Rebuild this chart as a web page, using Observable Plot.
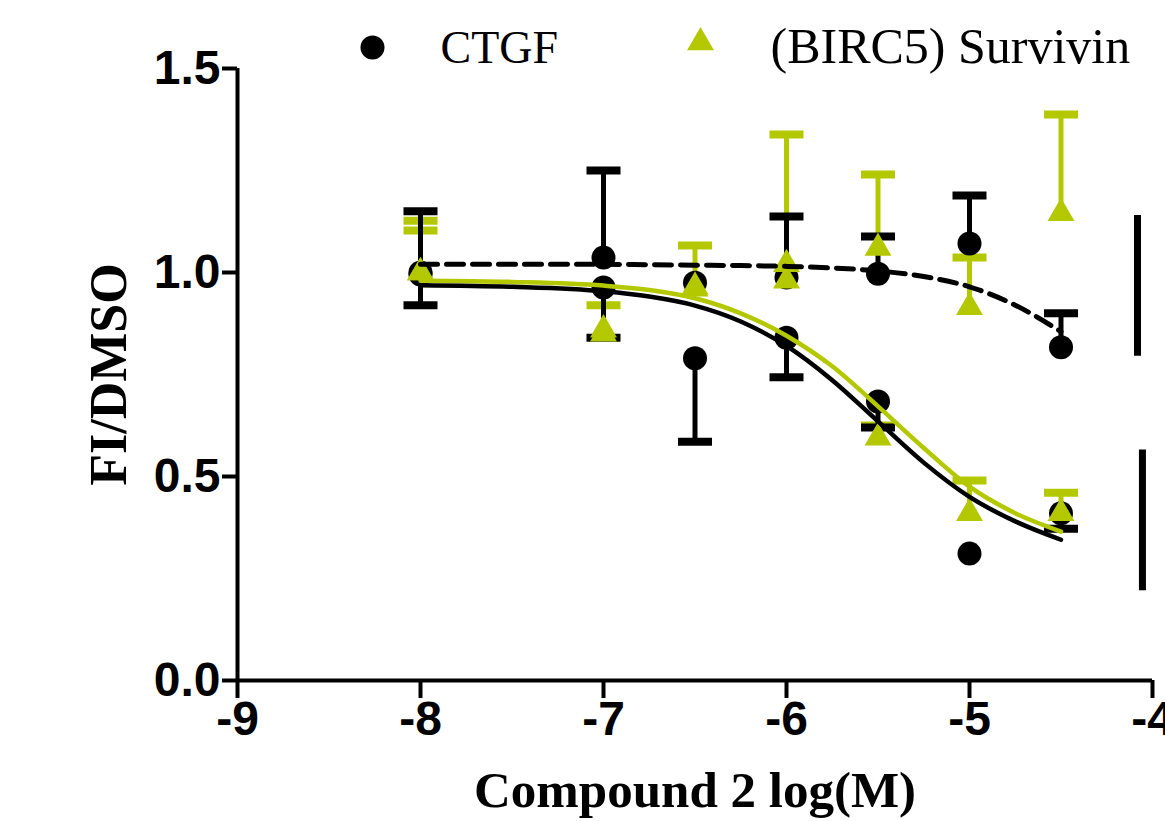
<!DOCTYPE html>
<html>
<head>
<meta charset="utf-8">
<script src="https://cdn.jsdelivr.net/npm/d3@7"></script>
<script src="https://cdn.jsdelivr.net/npm/@observablehq/plot@0.6"></script>
<style>
  html, body { margin: 0; padding: 0; background: #fff; }
  #chart { width: 1165px; height: 821px; }
</style>
</head>
<body>
<div id="chart"></div>
<script>
// ---- data ----
const doses = [-8, -7, -6.5, -6, -5.5, -5, -4.5];

// CTGF, upper group (dashed fit), error bars drawn upward
const ctgfUpper    = [1.00, 1.037, 0.975, 0.988, 0.997, 1.071, 0.817];
const ctgfUpperErr = [0.15, 0.213, 0, 0.149, 0.091, 0.118, 0.083];
// CTGF, lower group (solid fit), error bars drawn downward
const ctgfLower    = [0.995, 0.963, 0.79, 0.84, 0.684, 0.311, 0.41];
const ctgfLowerErr = [0.075, 0.123, 0.205, 0.097, 0.064, 0, 0.038];
// Survivin, upper group, error bars upward
const survUpper    = [1.00, 0.86, 0.965, 1.02, 1.06, 0.915, 1.145];
const survUpperErr = [0.127, 0.06, 0.101, 0.318, 0.18, 0.122, 0.242];
// Survivin, lower group (solid fit), error bars upward
const survLower    = [1.00, 0.85, 0.96, 0.98, 0.595, 0.41, 0.41];
const survLowerErr = [0.103, 0, 0, 0, 0.03, 0.08, 0.05];

// fitted curves
const fitX          = [-8, -7.5, -7, -6.75, -6.5, -6.25, -6, -5.75, -5.5, -5.25, -5, -4.75, -4.5];
const fitCtgfFlat   = [1.02, 1.02, 1.02, 1.019, 1.018, 1.017, 1.015, 1.011, 1.004, 0.99, 0.965, 0.92, 0.855];
const fitCtgfDrop   = [0.969, 0.965, 0.954, 0.941, 0.919, 0.88, 0.82, 0.736, 0.635, 0.534, 0.45, 0.39, 0.345];
const fitSurvDrop   = [0.98, 0.977, 0.968, 0.957, 0.937, 0.90, 0.845, 0.77, 0.672, 0.57, 0.475, 0.41, 0.365];

// vertical bars at the right edge
const sideBarX    = [-4.082, -4.055];
const sideBarLow  = [0.795, 0.22];
const sideBarHigh = [1.14, 0.565];

const xTicks = [-9, -8, -7, -6, -5, -4];
const yTicks = [0, 0.5, 1.0, 1.5];
const legendLabels = ["CTGF", "(BIRC5) Survivin"];
const xTitle = "Compound 2 log(M)";
const yTitle = "FI/DMSO";

// ---- build tables ----
const GREEN = "#b4c800";
const pts = (vals, errs, dir) => doses.map((d, i) => ({x: d, y: vals[i], err: errs[i], e: vals[i] + dir * errs[i]}));
const cU = pts(ctgfUpper, ctgfUpperErr, 1);
const cL = pts(ctgfLower, ctgfLowerErr, -1);
const sU = pts(survUpper, survUpperErr, 1);
const sL = pts(survLower, survLowerErr, 1);
const cAll = cU.concat(cL);
const sAll = sU.concat(sL);
const cErr = cAll.filter(d => d.err > 0);
const sErr = sAll.filter(d => d.err > 0);
const fit = (ys) => fitX.map((x, i) => ({x, y: ys[i]}));
const bars = sideBarX.map((x, i) => ({x, y1: sideBarLow[i], y2: sideBarHigh[i]}));

const capSymbol = {draw(ctx) { ctx.rect(-17, -4, 34, 8); }};

const serif = "'Liberation Serif', 'Times New Roman', serif";
const sans = "'Liberation Sans', Arial, sans-serif";

const chart = Plot.plot({
  width: 1165,
  height: 821,
  marginLeft: 237,
  marginRight: 13,
  marginTop: 68,
  marginBottom: 141,
  x: {domain: [-9, -4]},
  y: {domain: [0, 1.5]},
  style: {background: "white", overflow: "visible"},
  marks: [
    // green error bars
    Plot.ruleX(sErr, {x: "x", y1: "y", y2: "e", stroke: GREEN, strokeWidth: 5}),
    Plot.dot(sErr, {x: "x", y: "e", symbol: capSymbol, fill: GREEN, stroke: null}),
    // black error bars
    Plot.ruleX(cErr, {x: "x", y1: "y", y2: "e", stroke: "black", strokeWidth: 5}),
    Plot.dot(cErr, {x: "x", y: "e", symbol: capSymbol, fill: "black", stroke: null}),
    // points
    Plot.dot(cAll, {x: "x", y: "y", r: 12, fill: "black", stroke: null}),
    Plot.dot(sAll, {x: "x", y: "y", r: 10, symbol: "triangle", fill: GREEN, stroke: null}),
    // fitted curves
    Plot.line(fit(fitSurvDrop), {x: "x", y: "y", stroke: GREEN, strokeWidth: 4.5, curve: "monotone-x"}),
    Plot.line(fit(fitCtgfDrop), {x: "x", y: "y", stroke: "black", strokeWidth: 4.5, curve: "monotone-x"}),
    Plot.line(fit(fitCtgfFlat), {x: "x", y: "y", stroke: "black", strokeWidth: 5, strokeDasharray: "17,9", curve: "monotone-x"}),
    // right-side bars
    Plot.ruleX(bars, {x: "x", y1: "y1", y2: "y2", stroke: "black", strokeWidth: 7}),
    // axes
    Plot.ruleY([0], {x1: -9, x2: -4, stroke: "black", strokeWidth: 4}),
    Plot.ruleX([-9], {y1: 0, y2: 1.5, stroke: "black", strokeWidth: 4}),
    Plot.axisX({ticks: xTicks, tickFormat: d => String(d), tickSize: 18, tickPadding: 2,
      strokeWidth: 4, fontSize: 48, fontWeight: "bold", fontFamily: sans, label: null}),
    Plot.axisY({ticks: yTicks, tickFormat: d3.format(".1f"), tickSize: 15, tickPadding: 2,
      strokeWidth: 4, fontSize: 48, fontWeight: "bold", fontFamily: sans, label: null}),
    // axis titles
    Plot.text([xTitle], {frameAnchor: "bottom", dy: 110, lineAnchor: "middle", fontSize: 51, fontWeight: "bold", fontFamily: serif, fill: "black"}),
    Plot.text([yTitle], {frameAnchor: "left", dx: -128, rotate: -90, textAnchor: "middle", fontSize: 52, fontWeight: "bold", fontFamily: serif, fill: "black"}),
    // legend
    Plot.dot([0], {frameAnchor: "top-left", dx: 135, dy: -21, r: 12, fill: "black", stroke: null}),
    Plot.dot([0], {frameAnchor: "top-left", dx: 463, dy: -26, r: 10, symbol: "triangle", fill: GREEN, stroke: null}),
    Plot.text([legendLabels[0]], {frameAnchor: "top-left", dx: 203, dy: -20, textAnchor: "start", lineAnchor: "middle", fontSize: 46, fontFamily: serif, fill: "black"}),
    Plot.text([legendLabels[1]], {frameAnchor: "top-left", dx: 533, dy: -22, textAnchor: "start", lineAnchor: "middle", fontSize: 50, fontFamily: serif, fill: "black"})
  ]
});
document.getElementById("chart").appendChild(chart);
</script>
</body>
</html>
